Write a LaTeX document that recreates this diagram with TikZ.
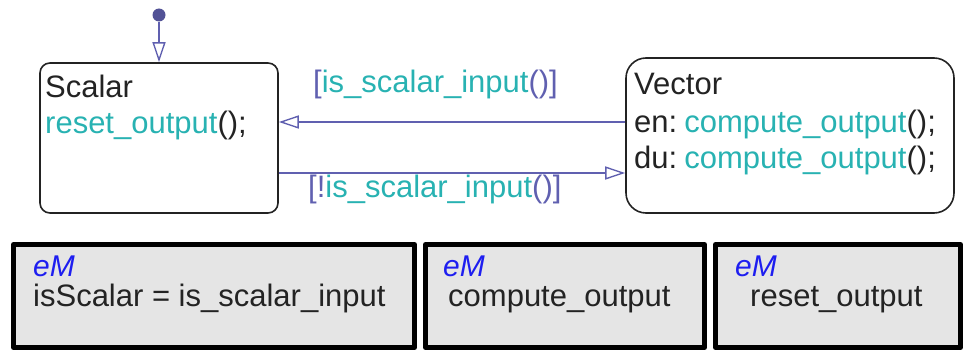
\documentclass[tikz,border=0pt]{standalone}
\usepackage{fontspec}
\setmainfont{Liberation Sans}
\usetikzlibrary{arrows.meta}
\definecolor{fcn}{RGB}{40,178,178}
\definecolor{trn}{RGB}{96,96,176}
\definecolor{ink}{RGB}{35,35,35}
\definecolor{emblue}{RGB}{30,30,240}
\definecolor{fnfill}{RGB}{229,229,229}
\begin{document}
\begin{tikzpicture}[x=1pt,y=-1pt, line join=round,
        >={Triangle[open,length=20pt,width=13pt,line width=1.4pt]},
        state/.style={draw=ink,line width=1.6pt,rounded corners=#1,inner sep=0pt},
        trans/.style={draw=trn,line width=1.4pt,->},
        txt/.style={anchor=base west,inner sep=0pt,text=ink,font=\fontsize{31}{36}\selectfont},
        fnbox/.style={draw=black,line width=5pt,fill=fnfill,inner sep=0pt}]
    \useasboundingbox (0,0) rectangle (969,350);
    % states
    \node[state=10pt,minimum width=238pt,minimum height=150pt] (scalar) at (159,138) {};
    \node[state=20pt,minimum width=328pt,minimum height=155pt] (vector) at (790,135.5) {};
    \node[txt] (scalarname) at (45,98) {Scalar};
    \node[txt] (scalaren) at (45,134) {\textcolor{fcn}{reset\_output}();};
    \node[txt] (vectorname) at (634,95) {Vector};
    \node[txt] (vectoren) at (634,132) {en:\hspace{7pt}\textcolor{fcn}{compute\_output}();};
    \node[txt] (vectordu) at (634,168) {du:\hspace{7pt}\textcolor{fcn}{compute\_output}();};
    % default transition
    \node[circle,fill=trn!85!black,inner sep=0pt,minimum size=13pt] (init) at (159,15) {};
    \draw[trans] (init) -- (scalar.north);
    % transitions
    \draw[trans] (vector.west |- 0,122) -- (scalar.east |- 0,122);
    \draw[trans] (scalar.east |- 0,173) -- (vector.west |- 0,173);
    \node[txt] (toscalar) at (313,93) {\textcolor{trn}{[}\textcolor{fcn}{is\_scalar\_input}\textcolor{trn}{()]}};
    \node[txt] (tovector) at (308,197) {\textcolor{trn}{[!}\textcolor{fcn}{is\_scalar\_input}\textcolor{trn}{()]}};
    % embedded matlab functions
    \foreach \n/\cx/\w/\ex/\tx/\body in {1/214/401/33/33/isScalar = is\_scalar\_input,
            2/565/279/443/448/compute\_output, 3/838/245/735/750/reset\_output}{
        \node[fnbox,minimum width=\w pt,minimum height=103pt] (fn\n) at (\cx,296) {};
        \node[txt,text=emblue,font=\fontsize{30}{36}\selectfont\itshape] (em\n) at (\ex,276) {eM};
        \node[txt] (body\n) at (\tx,306) {\body};
    }
\end{tikzpicture}
\end{document}
